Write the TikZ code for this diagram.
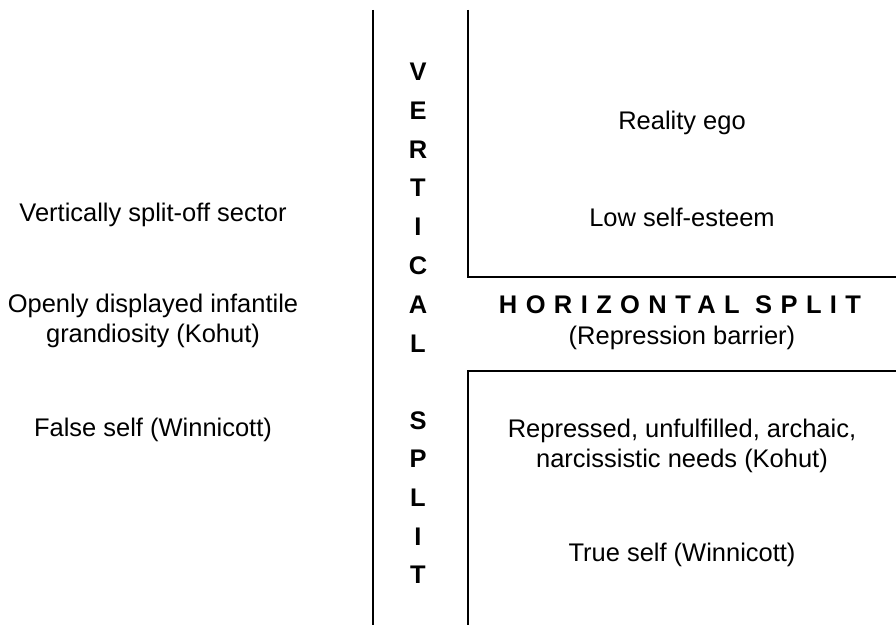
\documentclass[tikz,border=0pt]{standalone}
\usepackage{fontspec}
\setmainfont{Liberation Sans}
\usetikzlibrary{calc}

\begin{document}
\begin{tikzpicture}[
        x=0.02cm,
        y=-0.02cm,
        label/.style={
            align=center,
            font=\fontsize{14.5}{17}\selectfont,
            inner sep=0pt,
        },
        letter/.style={
            font=\fontsize{14.5}{17}\selectfont\bfseries,
            inner sep=0pt,
        },
        split/.style={
            line width=1.5pt,
        },
    ]

    \useasboundingbox (0, 0) rectangle (896, 625);

    % split lines
    \coordinate (outertop) at (373, 10);
    \coordinate (outerbottom) at (373, 625);
    \coordinate (uppertop) at (468, 10);
    \coordinate (uppercorner) at (468, 277);
    \coordinate (upperend) at (896, 277);
    \coordinate (lowerbottom) at (468, 625);
    \coordinate (lowercorner) at (468, 371);
    \coordinate (lowerend) at (896, 371);

    \draw[split] (outertop) -- (outerbottom);
    \draw[split] (uppertop) -- (uppercorner) -- (upperend);
    \draw[split] (lowerbottom) -- (lowercorner) -- (lowerend);

    % vertical split letters
    \node[letter] (v1) at (418, 72) {V};
    \node[letter] (v2) at (418, 111) {E};
    \node[letter] (v3) at (418, 150) {R};
    \node[letter] (v4) at (418, 188) {T};
    \node[letter] (v5) at (418, 227) {I};
    \node[letter] (v6) at (418, 266) {C};
    \node[letter] (v7) at (418, 305) {A};
    \node[letter] (v8) at (418, 344) {L};
    \node[letter] (s1) at (418, 421) {S};
    \node[letter] (s2) at (418, 459) {P};
    \node[letter] (s3) at (418, 498) {L};
    \node[letter] (s4) at (418, 537) {I};
    \node[letter] (s5) at (418, 575) {T};

    % left column
    \node[label] (sector) at (153, 215) {Vertically split-off sector};
    \node[label] (grandiosity) at (153, 321) {Openly displayed infantile\\grandiosity (Kohut)};
    \node[label] (falseself) at (153, 430) {False self (Winnicott)};

    % right column
    \node[label] (reality) at (682, 123) {Reality ego};
    \node[label] (esteem) at (682, 217) {Low self-esteem};
    \node[letter] (horizontal) at (680, 305) {\addfontfeatures{LetterSpace=33}HORIZONTAL SPLIT};
    \node[label] (barrier) at (682, 338) {(Repression barrier)};
    \node[label] (needs) at (682, 446) {Repressed, unfulfilled, archaic,\\narcissistic needs (Kohut)};
    \node[label] (trueself) at (682, 555) {True self (Winnicott)};
\end{tikzpicture}
\end{document}
